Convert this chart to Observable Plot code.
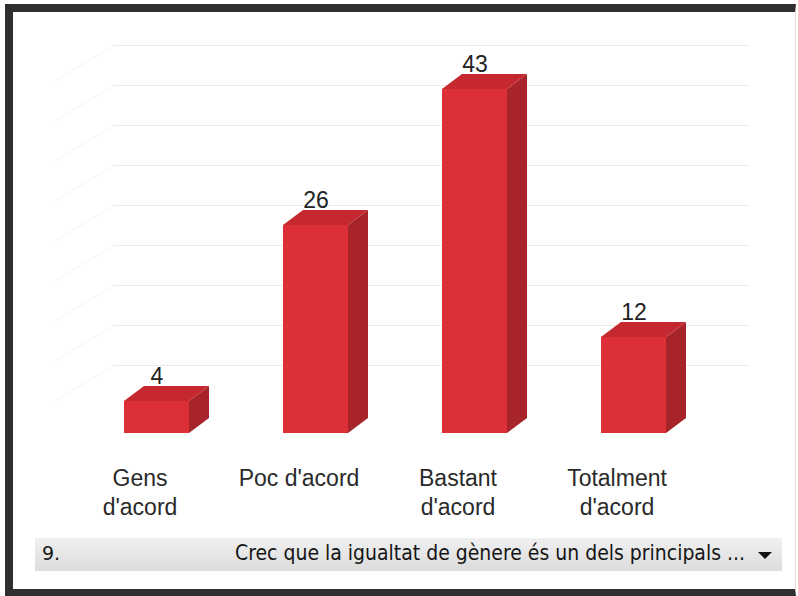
<!DOCTYPE html>
<html>
<head>
<meta charset="utf-8">
<script src="https://cdn.jsdelivr.net/npm/d3@7"></script>
<script src="https://cdn.jsdelivr.net/npm/@observablehq/plot@0.6"></script>
<style>
html,body{margin:0;padding:0;background:#fff;}
#wrap{position:relative;width:798px;height:596px;overflow:hidden;background:#fff;}
#chart{position:absolute;left:0;top:0;}
#frame{position:absolute;left:5px;top:4px;right:2px;bottom:0;box-sizing:border-box;
  border-top:8px solid #2f2f2f;border-left:8px solid #2f2f2f;border-bottom:7px solid #2f2f2f;border-right:1px solid #e2e2e2;pointer-events:none;}
#qbar{position:absolute;left:35px;top:538px;width:747px;height:33px;
  background:linear-gradient(to bottom,#f0f0f0,#dcdcdc);
  font-family:"DejaVu Sans",sans-serif;font-size:21px;color:#151515;white-space:nowrap;}
#qnum{position:absolute;left:7px;top:4px;font-size:19px;}
#qtext{position:absolute;left:200px;top:3px;display:inline-block;transform-origin:0 0;}
#qarrow{position:absolute;left:723px;top:14px;width:0;height:0;
  border-left:7px solid transparent;border-right:7px solid transparent;border-top:7px solid #111;}
</style>
</head>
<body>
<div id="wrap">
  <div id="chart"></div>
  <div id="qbar"><span id="qnum"></span><span id="qtext"></span><span id="qarrow"></span></div>
  <div id="frame"></div>
</div>
<script>
const categories = ["Gens d'acord", "Poc d'acord", "Bastant d'acord", "Totalment d'acord"];
const tickLabels = ["Gens\nd'acord", "Poc d'acord", "Bastant\nd'acord", "Totalment\nd'acord"];
const values = [4, 26, 43, 12];
const gridTicks = [5, 10, 15, 20, 25, 30, 35, 40, 45];
const questionNumber = "9.";
const questionText = "Crec que la igualtat de gènere és un dels principals ...";

const data = categories.map((c, i) => ({category: c, label: tickLabels[i], value: values[i]}));

const FRONT = "#dd3036", TOP = "#c5282e", SIDE = "#a6242a";
const DX = 20, DY = 15;

// top and side faces of the 3D boxes, positioned with Plot's scales
function boxFaces(index, scales) {
  const g = d3.create("svg:g");
  const x = scales.x, y = scales.y;
  const bw = x.bandwidth ? x.bandwidth() : 65;
  const y0 = y(0);
  for (const d of data) {
    const x0 = x(d.category), x1 = x0 + bw, yt = y(d.value);
    g.append("polygon")
      .attr("points", [[x1, yt], [x1 + DX, yt - DY], [x1 + DX, y0 - DY], [x1, y0]].join(" "))
      .attr("fill", SIDE);
    g.append("polygon")
      .attr("points", [[x0, yt], [x0 + DX, yt - DY], [x1 + DX, yt - DY], [x1, yt]].join(" "))
      .attr("fill", TOP);
  }
  return g.node();
}

// faint side-wall gridlines
function sideWall(index, scales) {
  const g = d3.create("svg:g");
  const y = scales.y;
  for (const t of gridTicks) {
    const yb = y(t) - 28;
    g.append("line")
      .attr("x1", 115).attr("y1", yb)
      .attr("x2", 55).attr("y2", yb + 36)
      .attr("stroke", "#f4f4f4");
  }
  return g.node();
}

const chart = Plot.plot({
  width: 798,
  height: 596,
  marginLeft: 76,
  marginRight: 83,
  marginTop: 33,
  marginBottom: 163,
  style: {background: "transparent", fontFamily: "'Liberation Sans', Arial, sans-serif"},
  x: {domain: categories, paddingInner: 0.59, paddingOuter: 0.3, axis: null},
  y: {domain: [0, 50], axis: null},
  marks: [
    Plot.ruleY(gridTicks, {y: d => d, dx: 35, dy: -28, insetLeft: 4, stroke: "#ebebeb"}),
    sideWall,
    Plot.barY(data, {x: "category", y: "value", fill: FRONT}),
    boxFaces,
    Plot.text(data, {x: "category", y: "value", text: d => String(d.value), dy: -25,
      lineAnchor: "middle", fontSize: 23, fill: "#222"}),
    Plot.text(data, {x: "category", text: "label", frameAnchor: "bottom", lineAnchor: "top",
      dy: 32, dx: -17, lineHeight: 1.26, fontSize: 23, fill: "#2a2a2a"})
  ]
});
document.getElementById("chart").appendChild(chart);

document.getElementById("qnum").textContent = questionNumber;
const qt = document.getElementById("qtext");
qt.textContent = questionText;
const w = qt.getBoundingClientRect().width;
qt.style.transform = `scaleX(${510 / w})`;
</script>
</body>
</html>
